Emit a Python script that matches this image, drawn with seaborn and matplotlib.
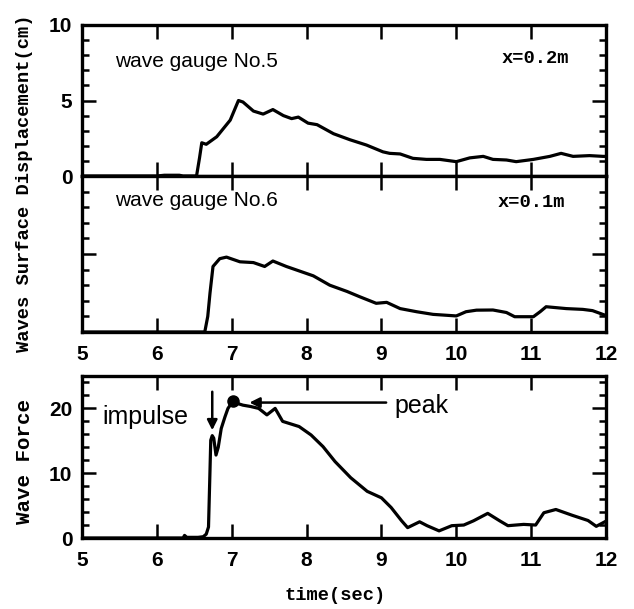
import numpy as np
import pandas as pd
import matplotlib
matplotlib.use("Agg")
import matplotlib.pyplot as plt
from matplotlib.ticker import MultipleLocator
import seaborn as sns

# wave gauge No.5 (x=0.2m), surface displacement (cm)
t5 = [5.0, 6.0, 6.1, 6.3, 6.35, 6.53, 6.57, 6.60, 6.66, 6.80, 6.98, 7.09, 7.15, 7.29,
      7.42, 7.55, 7.69, 7.80, 7.89, 8.02, 8.14, 8.36, 8.58, 8.80, 9.02, 9.11, 9.25,
      9.42, 9.60, 9.78, 10.0, 10.18, 10.36, 10.49, 10.67, 10.80, 11.03, 11.25, 11.40,
      11.56, 11.78, 11.96, 12.0]
h5 = [0, 0, 0.05, 0.05, 0, 0, 1.2, 2.2, 2.1, 2.6, 3.7, 5.0, 4.9, 4.3,
      4.1, 4.4, 4.0, 3.8, 3.9, 3.5, 3.4, 2.8, 2.4, 2.05, 1.6, 1.5, 1.46,
      1.17, 1.1, 1.1, 0.95, 1.2, 1.3, 1.1, 1.06, 0.95, 1.1, 1.3, 1.5,
      1.3, 1.35, 1.3, 1.3]

# wave gauge No.6 (x=0.1m)
t6 = [5.0, 6.64, 6.68, 6.71, 6.75, 6.84, 6.93, 7.11, 7.29, 7.44, 7.55, 7.73, 7.91,
      8.09, 8.31, 8.54, 8.71, 8.93, 9.07, 9.25, 9.47, 9.69, 10.0, 10.13, 10.27,
      10.49, 10.67, 10.78, 11.03, 11.12, 11.20, 11.47, 11.69, 11.82, 11.98, 12.0]
h6 = [0, 0, 1.0, 2.5, 4.2, 4.7, 4.8, 4.5, 4.45, 4.2, 4.55, 4.2, 3.9,
      3.6, 3.0, 2.6, 2.26, 1.84, 1.9, 1.5, 1.3, 1.13, 1.03, 1.3, 1.4,
      1.41, 1.25, 0.98, 0.98, 1.3, 1.62, 1.5, 1.45, 1.37, 1.09, 1.05]

# wave force
tf = [5.0, 6.35, 6.37, 6.40, 6.55, 6.62, 6.66, 6.69, 6.71, 6.72, 6.74, 6.76, 6.79,
      6.82, 6.86, 6.91, 6.95, 7.01, 7.15, 7.25, 7.36, 7.47, 7.58, 7.68, 7.90, 8.06,
      8.22, 8.38, 8.59, 8.81, 9.0, 9.13, 9.27, 9.35, 9.51, 9.61, 9.77, 9.94, 10.1,
      10.23, 10.42, 10.58, 10.69, 10.9, 11.06, 11.17, 11.33, 11.55, 11.76, 11.87, 12.0]
force = [0, 0, 0.4, 0.1, 0.1, 0.2, 0.6, 1.7, 10.5, 15.1, 15.8, 15.4, 12.8,
         14.0, 16.9, 18.7, 20.0, 21.0, 20.5, 20.3, 20.0, 19.0, 20.0, 18.0, 17.2, 15.9,
         14.1, 11.8, 9.3, 7.2, 6.2, 4.7, 2.65, 1.6, 2.5, 1.9, 1.1, 1.9, 2.0,
         2.65, 3.8, 2.65, 1.9, 2.1, 2.0, 3.9, 4.4, 3.5, 2.7, 1.8, 2.6]

t_peak = 7.02
f_peak = 21.2
t_impulse = 6.74

sns.set_style("ticks")
plt.rcParams['font.family'] = ['Liberation Sans', 'DejaVu Sans']
for k in ('text.color', 'axes.edgecolor', 'axes.labelcolor', 'xtick.color', 'ytick.color'):
    plt.rcParams[k] = 'black'
mono = ['Liberation Mono', 'DejaVu Sans Mono']

fig = plt.figure(figsize=(6.34, 6.09), dpi=100)
W, H = 634, 609


def box(l, t, r, b):
    return [l / W, 1 - b / H, (r - l) / W, (b - t) / H]


ax1 = fig.add_axes(box(82, 25, 606, 176))
ax2 = fig.add_axes(box(82, 176, 606, 332))
ax3 = fig.add_axes(box(82, 376, 606, 538))

df5 = pd.DataFrame({'t': t5, 'h': h5})
df6 = pd.DataFrame({'t': t6, 'h': h6})
dff = pd.DataFrame({'t': tf, 'f': force})

sns.lineplot(data=df5, x='t', y='h', ax=ax1, color='black', lw=2.3, sort=False)
sns.lineplot(data=df6, x='t', y='h', ax=ax2, color='black', lw=2.3, sort=False)
sns.lineplot(data=dff, x='t', y='f', ax=ax3, color='black', lw=2.3, sort=False)

ax1.set_ylim(0, 10)
ax1.yaxis.set_major_locator(MultipleLocator(5))
ax1.yaxis.set_minor_locator(MultipleLocator(1))
ax1.tick_params(axis='x', labelbottom=False)

ax2.set_ylim(0, 10)
ax2.yaxis.set_major_locator(MultipleLocator(5))
ax2.yaxis.set_minor_locator(MultipleLocator(1))
ax2.tick_params(axis='y', labelleft=False)

ax3.set_ylim(0, 25)
ax3.yaxis.set_major_locator(MultipleLocator(10))
ax3.yaxis.set_minor_locator(MultipleLocator(2))

for ax in (ax1, ax2, ax3):
    ax.set_xlim(5, 12)
    ax.xaxis.set_major_locator(MultipleLocator(1))
    ax.tick_params(which='both', direction='in', top=True, right=True, width=1.8)
    ax.tick_params(which='major', length=10)
    ax.tick_params(which='minor', length=5)
    ax.tick_params(axis='x', which='minor', top=False, bottom=False)
    ax.tick_params(axis='x', pad=9)
    ax.tick_params(axis='y', pad=7)
    for s in ax.spines.values():
        s.set_linewidth(2.4)
    ax.set_xlabel('')
    ax.set_ylabel('')
    for lab in ax.get_xticklabels() + ax.get_yticklabels():
        lab.set_fontweight('bold')
        lab.set_fontsize(15)

ax1.text(5.44, 7.55, 'wave gauge No.5', fontsize=15, va='center')
ax2.text(5.44, 8.46, 'wave gauge No.6', fontsize=15, va='center')
ax1.text(10.6, 7.8, 'x=0.2m', fontsize=13.5, family=mono, fontweight='bold', va='center')
ax2.text(10.55, 8.27, 'x=0.1m', fontsize=13.5, family=mono, fontweight='bold', va='center')

# annotations on the force record
ax3.plot([t_peak], [f_peak], 'o', color='black', ms=8)
ax3.annotate('', xy=(t_impulse, 16.2), xytext=(t_impulse, 23),
             arrowprops=dict(arrowstyle='-|>', color='black', lw=1.8, mutation_scale=15))
ax3.text(5.27, 18.6, 'impulse', fontsize=18, va='center')
ax3.annotate('', xy=(7.2, 20.9), xytext=(9.1, 20.9),
             arrowprops=dict(arrowstyle='-|>', color='black', lw=1.8, mutation_scale=15))
ax3.text(9.18, 20.4, 'peak', fontsize=18, va='center')

fig.text(25 / W, 1 - 183 / H, 'Waves Surface Displacement(cm)', rotation=90,
         ha='center', va='center', family=mono, fontweight='bold', fontsize=13.5)
fig.text(25 / W, 1 - 462 / H, 'Wave Force', rotation=90,
         ha='center', va='center', family=mono, fontweight='bold', fontsize=15)
fig.text(335 / W, 1 - 595 / H, 'time(sec)', ha='center', va='center',
         family=mono, fontweight='bold', fontsize=13.5)

fig.savefig('out.png', dpi=100)
